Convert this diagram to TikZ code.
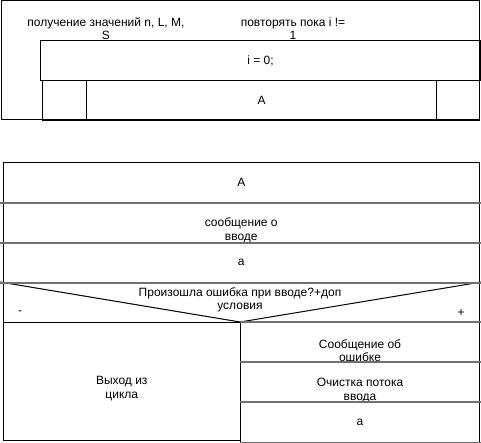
\documentclass[tikz,border=0pt]{standalone}
\usepackage{fontspec}
\setmainfont{Liberation Sans}
\definecolor{sepgray}{RGB}{112,112,112}
\tikzset{
    box/.style={draw,thick,line width=1pt,inner sep=0,anchor=north west,align=center,font=\fontsize{12}{13.5}\selectfont},
    txt/.style={inner sep=0,align=center,font=\fontsize{12}{13.5}\selectfont},
    sep/.style={draw=sepgray,line width=2pt}
}
\begin{document}
\begin{tikzpicture}[x=1pt,y=-1pt]
        \useasboundingbox (0,0) rectangle (481,443);
        % Loop header
        \node [box,minimum width=478,minimum height=119] (Outer) at (0.5,0.5) {};
        \node [txt] (InputText) at (106,28.5) {получение значений n, L, M,\\S};
        \node [txt] (LoopText) at (293,28.5) {повторять пока i !=\\1};
        \node [box,minimum width=440,minimum height=40] (Init) at (40,40) {i = 0;};
        % Loop body
        \node [box,minimum width=44,minimum height=40] (LeftCell) at (42,80) {};
        \node [box,minimum width=350,minimum height=40] (BodyA) at (86,80) {A};
        \node [box,minimum width=43,minimum height=40] (RightCell) at (436,80) {};
        % Block A
        \node [box,minimum width=476.5,minimum height=40] (BlockA) at (2.5,162) {A};
        \node [box,minimum width=476.5,minimum height=40] (Msg) at (2.5,202) {};
        \node [txt] (MsgText) at ([yshift=-8pt]Msg.center) {сообщение о\\вводе};
        \node [box,minimum width=476.5,minimum height=40] (ReadA) at (2.5,242) {a};
        % Condition
        \node [box,minimum width=476.5,minimum height=40] (Cond) at (2.5,282) {};
        \coordinate (CondTip) at (240,322);
        \draw [line width=1pt] ([xshift=-2.5pt]Cond.north west) -- (CondTip) -- ([xshift=1.5pt]Cond.north east);
        \node [txt] (CondText) at (240,300) {Произошла ошибка при вводе?+доп\\условия};
        \node [txt] (NoMark) at (20,313) {-};
        \node [txt] (YesMark) at (461,313) {+};
        % Branches
        \node [box,minimum width=237.5,minimum height=118] (Exit) at (2.5,322) {};
        \node [txt] (ExitText) at ([yshift=-7pt]Exit.center) {Выход из\\цикла};
        \node [box,minimum width=239,minimum height=40] (ErrMsg) at (240,322) {};
        \node [txt] (ErrMsgText) at ([yshift=-8pt]ErrMsg.center) {Сообщение об\\ошибке};
        \node [box,minimum width=239,minimum height=40] (Clear) at (240,362) {};
        \node [txt] (ClearText) at ([yshift=-8pt]Clear.center) {Очистка потока\\ввода};
        \node [box,minimum width=239,minimum height=40] (ReadB) at (240,402) {a};
        % Gray separators
        \foreach \n in {BlockA,Msg,ReadA} { \draw [sep] ([xshift=-2.5pt]\n.south west) -- ([xshift=1.5pt]\n.south east); }
        \foreach \n in {ErrMsg,Clear,ReadB} { \draw [sep] (\n.north west) -- ([xshift=1.5pt]\n.north east); }
        \draw [sep] (ReadB.south west) -- ([xshift=1.5pt]ReadB.south east);
    \end{tikzpicture}
\end{document}
